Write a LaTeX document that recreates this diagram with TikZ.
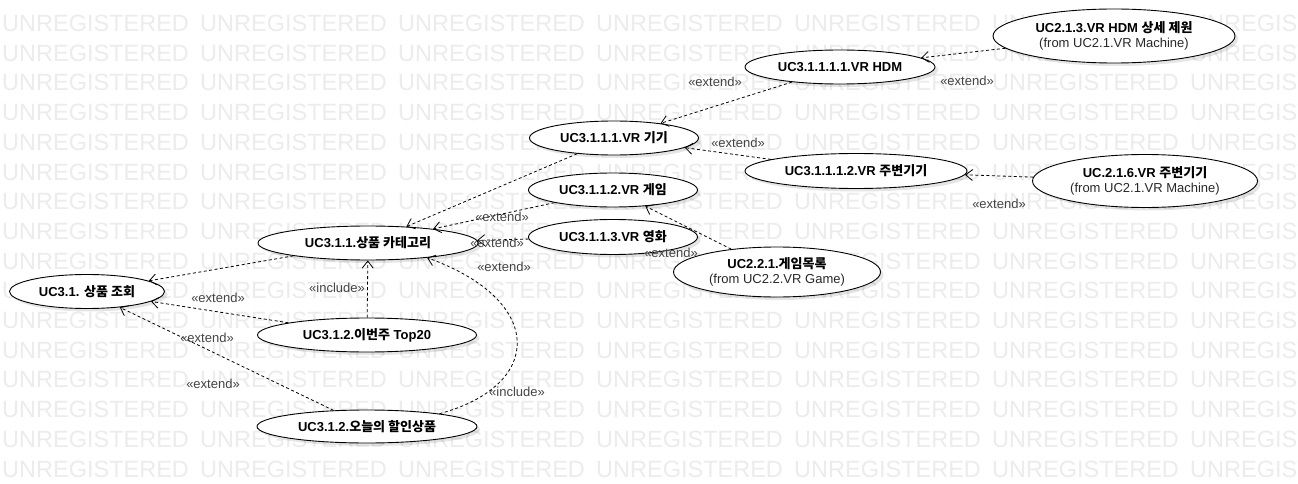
\documentclass[tikz,border=0pt]{standalone}
\usepackage{fontspec}
\setmainfont{Liberation Sans}
\newfontfamily\kr{Noto Sans CJK KR}
\usetikzlibrary{shapes.geometric,arrows.meta,shadows}
\definecolor{wmgray}{RGB}{236,236,236}
\definecolor{lblgray}{RGB}{68,68,68}
\definecolor{fromgray}{RGB}{40,40,40}
\begin{document}
\begin{tikzpicture}[x=1pt,y=-1pt,
  uc/.style={ellipse, draw=black, line width=0.9pt, fill=white, inner sep=0pt, align=center,
    font=\fontsize{13}{15}\selectfont\bfseries,
    drop shadow={shadow xshift=3pt, shadow yshift=-3pt, fill=black, opacity=0.10}},
  dep/.style={draw=black, line width=0.8pt, dash pattern=on 3pt off 2.5pt,
    -{Straight Barb[length=7pt,width=11pt,line width=0.8pt]}},
  lbl/.style={font=\fontsize{13}{15}\selectfont, text=lblgray, inner sep=0pt},
  wm/.style={font=\fontsize{23.5}{25}\selectfont, text=wmgray, anchor=base west, inner sep=0pt}]
\useasboundingbox (0,0) rectangle (1298,484);
\clip (0,0) rectangle (1298,484);
\fill[white] (0,0) rectangle (1298,484);
% watermark
\foreach \r in {0,...,15}{
  \foreach \c in {0,...,6}{
    \node[wm] (wm-\r-\c) at ({2+198*\c},{31.5+29.7*\r}) {UNREGISTERED};
  }
}
% use cases
\node[uc, minimum width=242pt, minimum height=54pt] (u213) at (1114,36)
  {UC2.1.3.VR HDM {\kr 상세 제원}\\{\mdseries\color{fromgray}(from UC2.1.VR Machine)}};
\node[uc, minimum width=190pt, minimum height=34pt] (hdm) at (840,67) {UC3.1.1.1.1.VR HDM};
\node[uc, minimum width=169pt, minimum height=34pt] (vrgigi) at (614,138) {UC3.1.1.1.VR {\kr 기기}};
\node[uc, minimum width=222pt, minimum height=35pt] (jubyeon) at (856,171) {UC3.1.1.1.2.VR {\kr 주변기기}};
\node[uc, minimum width=225pt, minimum height=53pt] (u216) at (1145,181)
  {UC.2.1.6.VR {\kr 주변기기}\\{\mdseries\color{fromgray}(from UC2.1.VR Machine)}};
\node[uc, minimum width=169pt, minimum height=34pt] (game) at (613,190) {UC3.1.1.2.VR {\kr 게임}};
\node[uc, minimum width=169pt, minimum height=35pt] (movie) at (613,237) {UC3.1.1.3.VR {\kr 영화}};
\node[uc, minimum width=207pt, minimum height=50pt] (gamelist) at (777,272)
  {UC2.2.1.{\kr 게임목록}\\{\mdseries\color{fromgray}(from UC2.2.VR Game)}};
\node[uc, minimum width=220pt, minimum height=34pt] (cat) at (368,243) {UC3.1.1.{\kr 상품 카테고리}};
\node[uc, minimum width=155pt, minimum height=34pt] (view) at (87,291.5) {UC3.1. {\kr 상품 조회}};
\node[uc, minimum width=219pt, minimum height=34pt] (top20) at (367,335) {UC3.1.2.{\kr 이번주} Top20};
\node[uc, minimum width=220pt, minimum height=33pt] (sale) at (367,426.5) {UC3.1.2.{\kr 오늘의 할인상품}};
% connectors
\draw[dep] (u213) -- (hdm);
\draw[dep] (hdm) -- (vrgigi);
\draw[dep] (jubyeon) -- (vrgigi);
\draw[dep] (u216) -- (jubyeon);
\draw[dep] (vrgigi) -- (cat);
\draw[dep] (game) -- (cat);
\draw[dep] (movie) -- (cat);
\draw[dep] (gamelist) -- (game);
\draw[dep] (top20) -- (cat);
\draw[dep] (sale.10) .. controls (545,385) and (545,300) .. (cat.-14);
\draw[dep] (cat) -- (view);
\draw[dep] (top20) -- (view);
\draw[dep] (sale) -- (view);
% labels
\node[lbl] (l1) at (967,81) {«extend»};
\node[lbl] (l2) at (715,82) {«extend»};
\node[lbl] (l3) at (738,143) {«extend»};
\node[lbl] (l4) at (999,204) {«extend»};
\node[lbl] (l5) at (502,217) {«extend»};
\node[lbl] (l6) at (497,243) {«extend»};
\node[lbl] (l7) at (671,253) {«extend»};
\node[lbl] (l8) at (504,267) {«extend»};
\node[lbl] (l9) at (337,288) {«include»};
\node[lbl] (l10) at (218,298) {«extend»};
\node[lbl] (l11) at (207,338) {«extend»};
\node[lbl] (l12) at (213,384) {«extend»};
\node[lbl] (l13) at (517,392) {«include»};
\end{tikzpicture}
\end{document}
